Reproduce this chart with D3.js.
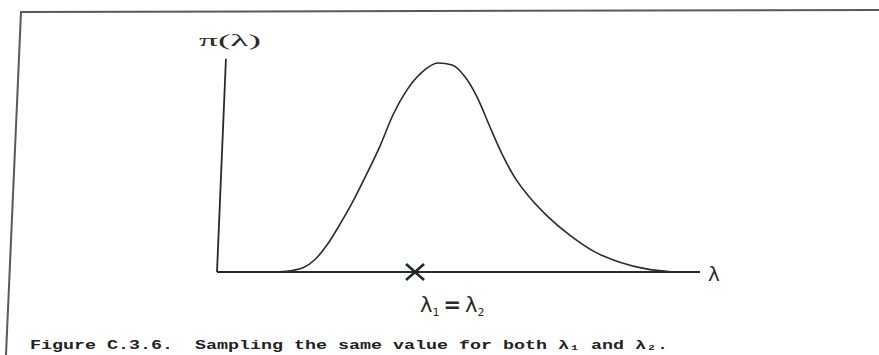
<!DOCTYPE html>
<html>
<head>
<meta charset="utf-8">
<script src="https://cdn.jsdelivr.net/npm/d3@7"></script>
<style>
  html, body { margin: 0; padding: 0; background: #fff; }
  svg { display: block; }
</style>
</head>
<body>
<svg id="chart" width="879" height="355"></svg>
<script>
// ---- data ----
const lambdaValues = [1.16, 1.51, 1.78, 2.03, 2.28, 2.55, 2.82, 3.08, 3.37, 3.64, 3.93, 4.24, 4.58, 4.87, 5.13, 5.40, 5.65, 5.90, 6.17, 6.48, 6.85, 7.31, 7.83, 8.34, 8.86, 9.44];
const piValues     = [0.000, 0.006, 0.020, 0.060, 0.130, 0.230, 0.340, 0.460, 0.600, 0.750, 0.870, 0.955, 1.000, 0.990, 0.935, 0.830, 0.695, 0.565, 0.450, 0.355, 0.265, 0.175, 0.095, 0.047, 0.016, 0.000];
const sampledLambda = 4.1;
const yAxisLabel = "π(λ)";
const xAxisLabel = "λ";
const captionText = "Figure C.3.6.  Sampling the same value for both λ₁ and λ₂.";

// ---- layout ----
const svg = d3.select("#chart");
const x = d3.scaleLinear().domain([0, 10]).range([217, 700]);
const y = d3.scaleLinear().domain([0, 1]).range([272, 63]);
const ink = "#2a2a2a";

// scanned frame (top and left edges)
svg.append("path")
  .attr("d", "M879,10 L21,12 L6,355")
  .attr("fill", "none").attr("stroke", "#5a5a5a").attr("stroke-width", 2);

// axes (scan is slightly sheared, vertical axis leans right)
const shear = -2.4;
const axisG = svg.append("g")
  .attr("transform", `translate(${x(0)},${y(0)}) skewX(${shear})`);
axisG.append("line")
  .attr("x1", 0).attr("y1", 0)
  .attr("x2", 0).attr("y2", y(1.02) - y(0))
  .attr("stroke", ink).attr("stroke-width", 1.8);
svg.append("line")
  .attr("x1", x(0)).attr("y1", y(0))
  .attr("x2", x(10)).attr("y2", y(0))
  .attr("stroke", ink).attr("stroke-width", 1.8);

// density curve
const pts = lambdaValues.map((l, i) => [l, piValues[i]]);
const line = d3.line()
  .x(d => x(d[0])).y(d => y(d[1]))
  .curve(d3.curveMonotoneX);
svg.append("path")
  .datum(pts)
  .attr("d", line)
  .attr("fill", "none").attr("stroke", ink).attr("stroke-width", 1.6);

// sampled value marker
const cx = x(sampledLambda), cy = y(0);
svg.append("path")
  .attr("d", `M${cx-9},${cy-8} L${cx+9},${cy+8} M${cx+9},${cy-8} L${cx-9},${cy+8}`)
  .attr("stroke", "#1e2a22").attr("stroke-width", 2.6).attr("fill", "none");

// labels
svg.append("text")
  .attr("x", 199).attr("y", 46)
  .attr("font-family", "Liberation Serif, serif").attr("font-size", 17)
  .attr("fill", ink)
  .attr("textLength", 62).attr("lengthAdjust", "spacingAndGlyphs")
  .text(yAxisLabel);

svg.append("text")
  .attr("x", x(10) + 8).attr("y", 281)
  .attr("font-family", "DejaVu Sans, sans-serif").attr("font-size", 20)
  .attr("fill", ink)
  .text(xAxisLabel);

const eq = svg.append("text")
  .attr("x", 420).attr("y", 312)
  .attr("font-family", "DejaVu Sans, sans-serif").attr("font-size", 21)
  .attr("fill", ink);
eq.append("tspan").text("λ");
eq.append("tspan").attr("font-size", 11).attr("dy", 4).text("1");
eq.append("tspan").attr("dy", -4).attr("dx", 4).attr("font-weight", "bold").text("=");
eq.append("tspan").attr("dx", 4).text("λ");
eq.append("tspan").attr("font-size", 11).attr("dy", 4).text("2");

// caption
svg.append("text")
  .attr("x", 30).attr("y", 349)
  .attr("font-family", "Liberation Mono, Courier New, monospace")
  .attr("font-weight", "bold").attr("font-size", 13)
  .attr("fill", "#222")
  .style("white-space", "pre")
  .attr("textLength", 638).attr("lengthAdjust", "spacingAndGlyphs")
  .text(captionText);
</script>
</body>
</html>
